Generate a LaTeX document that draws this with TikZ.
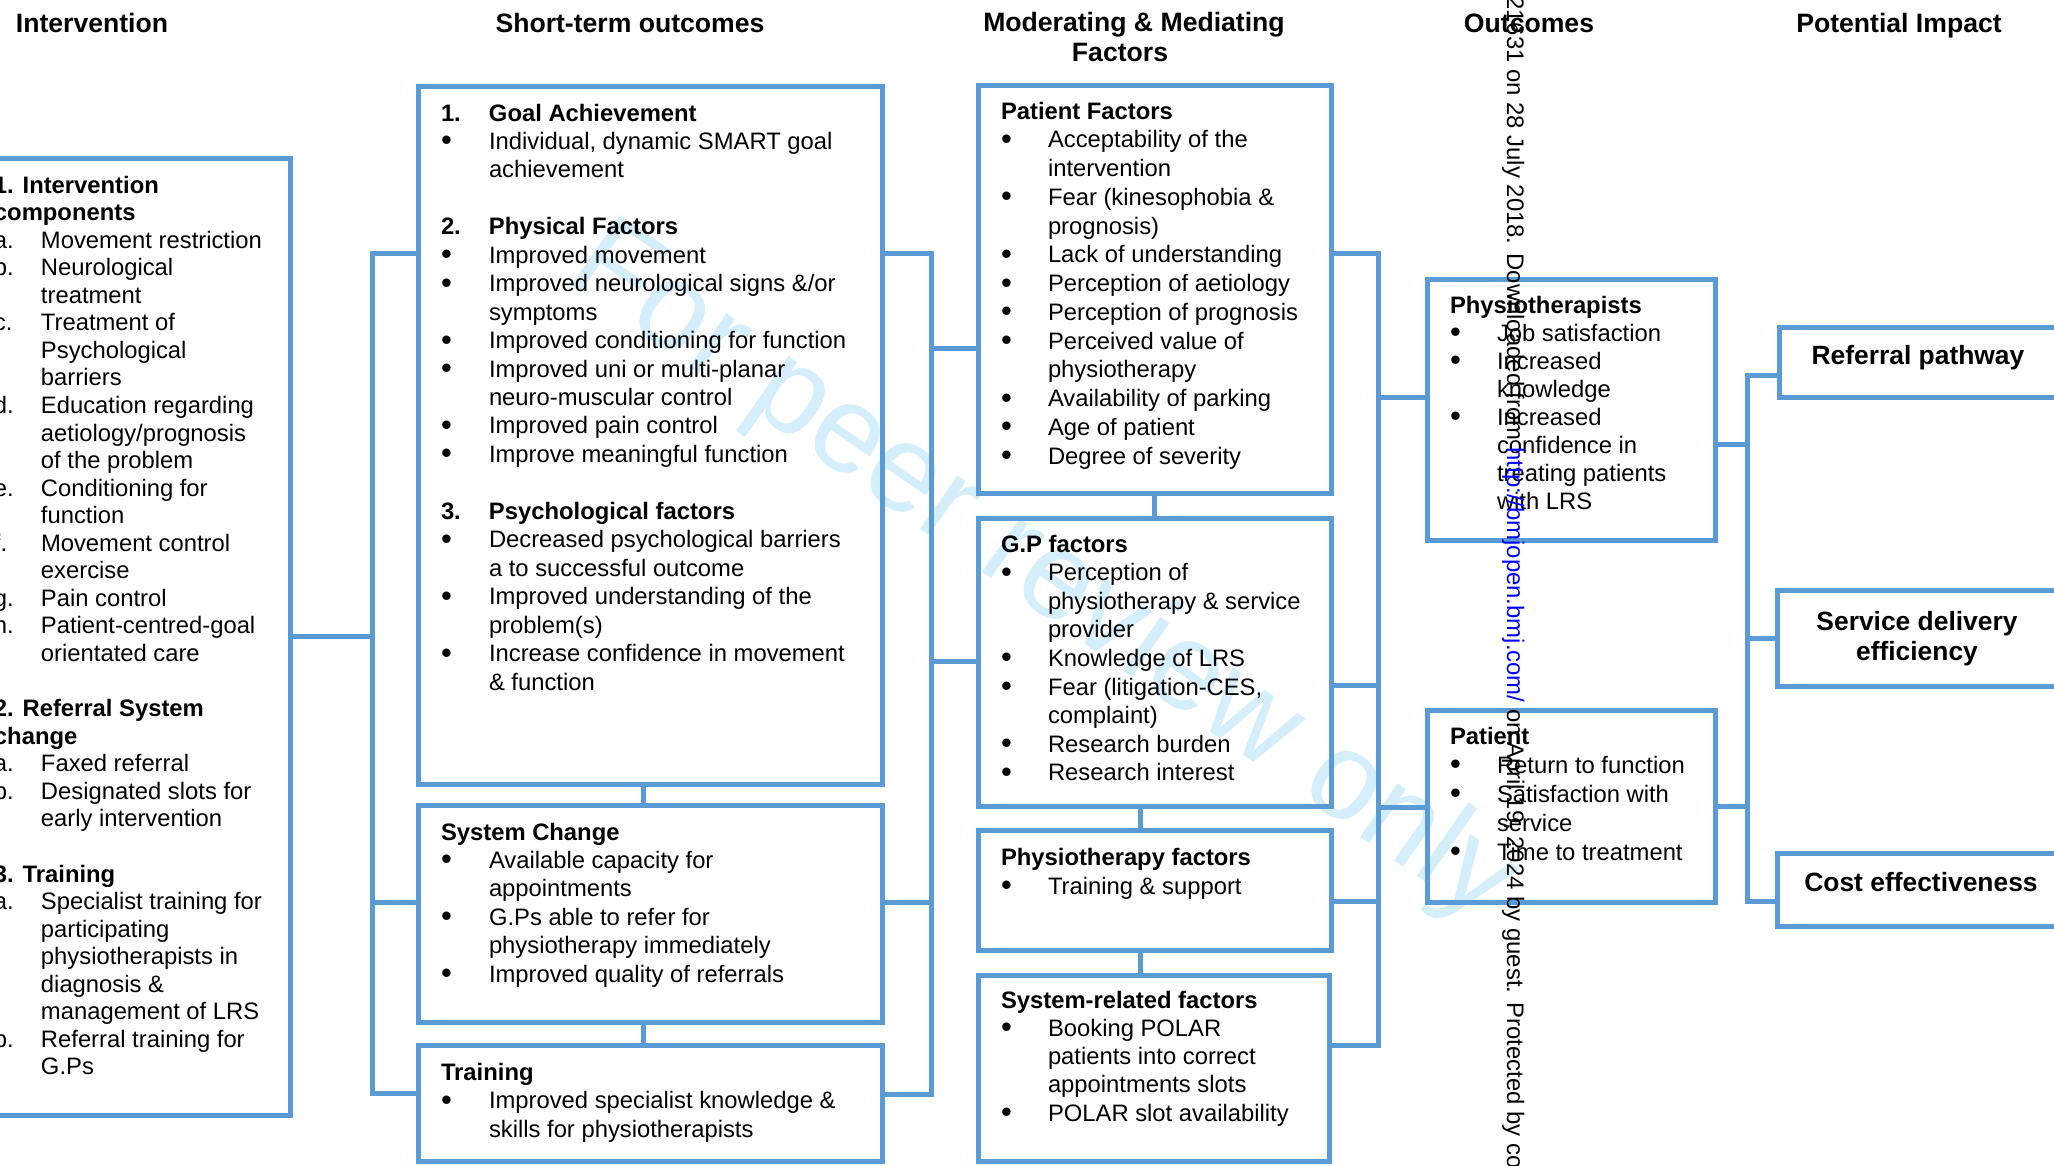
\documentclass[tikz,border=0pt]{standalone}
\usepackage{fontspec}
\setmainfont{Liberation Sans}
\usetikzlibrary{fit}
\definecolor{bl}{RGB}{91,155,213}
\definecolor{wm}{RGB}{212,238,251}
\newlength\labw
\newcommand\bul{\raisebox{-1.5pt}{\fontsize{31}{31}\selectfont\textbullet}}
\newcommand\Lh[1]{\hbox{\bfseries #1}}
\newcommand\Ln[2]{\hbox{\hbox to\labw{\bfseries #1\hfil}\bfseries #2}}
\newcommand\Lb[1]{\hbox{\hbox to\labw{\bul\hfil}#1}}
\newcommand\Lc[1]{\hbox{\hskip\labw #1}}
\newcommand\Ll[2]{\hbox{\hbox to\labw{#1\hfil}#2}}
\newcommand\Le{\hbox{}}
\newcommand\blk[3]{\vtop{\labw=#1\baselineskip=#2\lineskiplimit=-100pt\lineskip=0pt #3}}
\newcommand\ctwo[3]{\vtop{\baselineskip=#1\lineskiplimit=-100pt\lineskip=0pt\halign{\hfil##\hfil\cr#2\cr#3\cr}}}
\tikzset{
  bx/.style={draw=bl, line width=5pt, inner sep=0pt, outer sep=0pt},
  cn/.style={draw=bl, line width=5pt, line join=miter},
  txt/.style={inner sep=0pt, outer sep=0pt, anchor=base west, font=\fontsize{23.8}{28}\selectfont},
  hdr/.style={inner sep=0pt, outer sep=0pt, anchor=base, font=\fontsize{26.6}{30}\selectfont\bfseries},
  imp/.style={inner sep=0pt, outer sep=0pt, anchor=base, font=\fontsize{26.4}{30}\selectfont\bfseries},
}
\begin{document}
\begin{tikzpicture}[x=1pt,y=-1pt]
\useasboundingbox (0,0) rectangle (2054,1165);
\fill[white] (0,0) rectangle (2054,1165);

% watermark
\node[text=wm, font=\fontsize{124}{124}\selectfont, rotate=-35, inner sep=0pt] (wmk) at (1042,575) {For peer review only};

% headers
\node[hdr] (h1) at (92,32) {Intervention};
\node[hdr] (h2) at (630,32) {Short-term outcomes};
\node[hdr] (h3) at (1134,31) {\ctwo{30.5pt}{Moderating \& Mediating}{Factors\hskip 28pt}};
\node[hdr] (h4) at (1529,32) {Outcomes};
\node[hdr] (h5) at (1899,32) {Potential Impact};

% boxes
\node[bx, fit={(-40,158) (290,1115)}] (Int) {};
\node[bx, fit={(418,86) (882,784)}] (ST1) {};
\node[bx, fit={(418,805) (882,1022)}] (ST2) {};
\node[bx, fit={(418,1045) (882,1161)}] (ST3) {};
\node[bx, fit={(978,85) (1331,493)}] (MF1) {};
\node[bx, fit={(978,518) (1331,806)}] (MF2) {};
\node[bx, fit={(978,830) (1331,950)}] (MF3) {};
\node[bx, fit={(978,975) (1329,1161)}] (MF4) {};
\node[bx, fit={(1427,279) (1715,540)}] (OC1) {};
\node[bx, fit={(1427,710) (1715,902)}] (OC2) {};
\node[bx, fit={(1779,327) (2062,397)}] (PI1) {};
\node[bx, fit={(1777,590) (2062,686)}] (PI2) {};
\node[bx, fit={(1777,853) (2062,926)}] (PI3) {};

% stacked connectors
\coordinate (s1) at (643,0);
\coordinate (m1) at (1154,0);
\coordinate (m2) at (1140,0);
\draw[cn] (ST1.south -| s1) -- (ST2.north -| s1);
\draw[cn] (ST2.south -| s1) -- (ST3.north -| s1);
\draw[cn] (MF1.south -| m1) -- (MF2.north -| m1);
\draw[cn] (MF2.south -| m2) -- (MF3.north -| m2);
\draw[cn] (MF3.south -| m2) -- (MF4.north -| m2);

% bus A
\coordinate (a0) at (372,253);
\coordinate (a1) at (372,1093);
\coordinate (a2) at (372,902);
\draw[cn] (a0 -| ST1.west) -- (a0) -- (a1) -- (a1 -| ST3.west);
\draw[cn] (Int.east) -- (Int.east -| a0);
\draw[cn] (a2) -- (a2 -| ST2.west);

% bus B
\coordinate (b0) at (931,253);
\coordinate (b1) at (931,1094);
\coordinate (b2) at (931,902);
\coordinate (b3) at (931,348);
\coordinate (b4) at (931,661);
\draw[cn] (b0 -| ST1.east) -- (b0) -- (b1) -- (b1 -| ST3.east);
\draw[cn] (b2 -| ST2.east) -- (b2);
\draw[cn] (b3) -- (b3 -| MF1.west);
\draw[cn] (b4) -- (b4 -| MF2.west);

% bus C
\coordinate (c0) at (1378,253);
\coordinate (c1) at (1378,1045);
\coordinate (c2) at (1378,685);
\coordinate (c3) at (1378,901);
\coordinate (c4) at (1378,397);
\coordinate (c5) at (1378,807);
\draw[cn] (c0 -| MF1.east) -- (c0) -- (c1) -- (c1 -| MF4.east);
\draw[cn] (c2 -| MF2.east) -- (c2);
\draw[cn] (c3 -| MF3.east) -- (c3);
\draw[cn] (c4) -- (c4 -| OC1.west);
\draw[cn] (c5) -- (c5 -| OC2.west);

% bus D
\coordinate (d0) at (1747,375);
\coordinate (d1) at (1747,901);
\coordinate (d2) at (1747,444);
\coordinate (d3) at (1747,806);
\coordinate (d4) at (1747,638);
\draw[cn] (d0 -| PI1.west) -- (d0) -- (d1) -- (d1 -| PI3.west);
\draw[cn] (d2 -| OC1.east) -- (d2);
\draw[cn] (d3 -| OC2.east) -- (d3);
\draw[cn] (d4) -- (d4 -| PI2.west);

% texts
\node[txt] (tInt) at (-6,193) {\blk{47pt}{27.56pt}{%
\Lh{1. Intervention}
\Lh{components}
\Ll{a.}{Movement restriction}
\Ll{b.}{Neurological}
\Lc{treatment}
\Ll{c.}{Treatment of}
\Lc{Psychological}
\Lc{barriers}
\Ll{d.}{Education regarding}
\Lc{aetiology/prognosis}
\Lc{of the problem}
\Ll{e.}{Conditioning for}
\Lc{function}
\Ll{f.}{Movement control}
\Lc{exercise}
\Ll{g.}{Pain control}
\Ll{h.}{Patient-centred-goal}
\Lc{orientated care}
\Le
\Lh{2. Referral System}
\Lh{change}
\Ll{a.}{Faxed referral}
\Ll{b.}{Designated slots for}
\Lc{early intervention}
\Le
\Lh{3. Training}
\Ll{a.}{Specialist training for}
\Lc{participating}
\Lc{physiotherapists in}
\Lc{diagnosis \&}
\Lc{management of LRS}
\Ll{b.}{Referral training for}
\Lc{G.Ps}}};

\node[txt] (tST1) at (441,121) {\blk{48pt}{28.45pt}{%
\Ln{1.}{Goal Achievement}
\Lb{Individual, dynamic SMART goal}
\Lc{achievement}
\Le
\Ln{2.}{Physical Factors}
\Lb{Improved movement}
\Lb{Improved neurological signs \&/or}
\Lc{symptoms}
\Lb{Improved conditioning for function}
\Lb{Improved uni or multi-planar}
\Lc{neuro-muscular control}
\Lb{Improved pain control}
\Lb{Improve meaningful function}
\Le
\Ln{3.}{Psychological factors}
\Lb{Decreased psychological barriers}
\Lc{a to successful outcome}
\Lb{Improved understanding of the}
\Lc{problem(s)}
\Lb{Increase confidence in movement}
\Lc{\& function}}};

\node[txt] (tST2) at (441,840) {\blk{48pt}{28.4pt}{%
\Lh{System Change}
\Lb{Available capacity for}
\Lc{appointments}
\Lb{G.Ps able to refer for}
\Lc{physiotherapy immediately}
\Lb{Improved quality of referrals}}};

\node[txt] (tST3) at (441,1080) {\blk{48pt}{28.5pt}{%
\Lh{Training}
\Lb{Improved specialist knowledge \&}
\Lc{skills for physiotherapists}}};

\node[txt] (tMF1) at (1001,119) {\blk{47pt}{28.75pt}{%
\Lh{Patient Factors}
\Lb{Acceptability of the}
\Lc{intervention}
\Lb{Fear (kinesophobia \&}
\Lc{prognosis)}
\Lb{Lack of understanding}
\Lb{Perception of aetiology}
\Lb{Perception of prognosis}
\Lb{Perceived value of}
\Lc{physiotherapy}
\Lb{Availability of parking}
\Lb{Age of patient}
\Lb{Degree of severity}}};

\node[txt] (tMF2) at (1001,552) {\blk{47pt}{28.6pt}{%
\Lh{G.P factors}
\Lb{Perception of}
\Lc{physiotherapy \& service}
\Lc{provider}
\Lb{Knowledge of LRS}
\Lb{Fear (litigation-CES,}
\Lc{complaint)}
\Lb{Research burden}
\Lb{Research interest}}};

\node[txt] (tMF3) at (1001,865) {\blk{47pt}{29pt}{%
\Lh{Physiotherapy factors}
\Lb{Training \& support}}};

\node[txt] (tMF4) at (1001,1008) {\blk{47pt}{28.25pt}{%
\Lh{System-related factors}
\Lb{Booking POLAR}
\Lc{patients into correct}
\Lc{appointments slots}
\Lb{POLAR slot availability}}};

\node[txt] (tOC1) at (1450,313) {\blk{47pt}{28.1pt}{%
\Lh{Physiotherapists}
\Lb{Job satisfaction}
\Lb{Increased}
\Lc{knowledge}
\Lb{Increased}
\Lc{confidence in}
\Lc{treating patients}
\Lc{with LRS}}};

\node[txt] (tOC2) at (1450,744) {\blk{47pt}{29pt}{%
\Lh{Patient}
\Lb{Return to function}
\Lb{Satisfaction with}
\Lc{service}
\Lb{Time to treatment}}};

\node[imp] (tPI1) at (1918,364) {Referral pathway};
\node[imp] (tPI2) at (1917,630) {\ctwo{30pt}{Service delivery}{efficiency}};
\node[imp] (tPI3) at (1921,891) {Cost effectiveness};

% vertical download note
\node[font=\fontsize{23.9}{24}\selectfont, rotate=-90, anchor=base west, inner sep=0pt] (dl) at (1507,-4) {21631 on 28 July 2018. Downloaded from \textcolor{blue}{http://bmjopen.bmj.com/} on April 19, 2024 by guest. Protected by co};
\end{tikzpicture}
\end{document}
